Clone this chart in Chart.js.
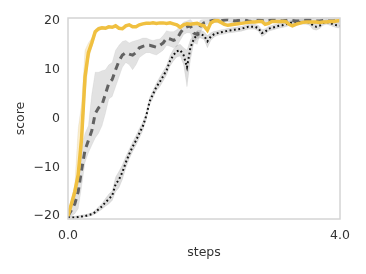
<!DOCTYPE html>
<html>
<head>
<meta charset="utf-8">
<script src="https://cdn.jsdelivr.net/npm/chart.js@4/dist/chart.umd.min.js"></script>
<style>
    html, body { margin: 0; padding: 0; background: #fff; }
    #wrap { width: 366px; height: 274px; }
</style>
</head>
<body>
<div id="wrap"><canvas id="scoreChart"></canvas></div>
<script>
// ===== DATA =====
const steps = [0, 0.05, 0.1, 0.15, 0.2, 0.25, 0.3, 0.35, 0.4, 0.45,
    0.5, 0.55, 0.6, 0.65, 0.7, 0.75, 0.8, 0.85, 0.9, 0.95,
    1.0, 1.05, 1.1, 1.15, 1.2, 1.25, 1.3, 1.35, 1.4, 1.45,
    1.5, 1.55, 1.6, 1.65, 1.7, 1.75, 1.8, 1.85, 1.9, 1.95,
    2.0, 2.05, 2.1, 2.15, 2.2, 2.25, 2.3, 2.35, 2.4, 2.45,
    2.5, 2.55, 2.6, 2.65, 2.7, 2.75, 2.8, 2.85, 2.9, 2.95,
    3.0, 3.05, 3.1, 3.15, 3.2, 3.25, 3.3, 3.35, 3.4, 3.45,
    3.5, 3.55, 3.6, 3.65, 3.7, 3.75, 3.8, 3.85, 3.9, 3.95, 4.0];

const goldScore = [-20, -17.5, -15, -11.5, -4, 8.5, 13.5, 15.5, 17.8, 18.4,
    18.6, 18.5, 18.8, 18.7, 19, 18.5, 18.4, 19, 19.2, 18.8,
    18.8, 19.2, 19.4, 19.5, 19.5, 19.6, 19.5, 19.6, 19.6, 19.5,
    19.6, 19.4, 19.2, 18.7, 19.2, 19.4, 19.3, 19.4, 19.5, 19.2,
    19, 18.1, 19.6, 20, 20.1, 19.7, 19.3, 19.1, 19.2, 19.3,
    19.4, 19.5, 19.6, 19.7, 19.8, 19.8, 19.9, 19.9, 19.3, 19.5,
    19.9, 19.9, 19.9, 19.9, 19.9, 19.3, 19, 19.3, 19.5, 19.7,
    19.8, 19.8, 19.8, 19.8, 19.7, 19.8, 19.8, 19.9, 19.9, 20, 20.1];
// band only matters during the rise, first 13 steps
const goldLo = [-20.3, -18.5, -16.5, -13.5, -8, 4, 12, 14.5, 17.2, 18, 18.3, 18.2, 18.5];
const goldHi = [-19.7, -16.5, -13.5, -2, 3, 14, 15.5, 16.5, 18.3, 18.8, 18.9, 18.8, 19.1];

const dashScore = [-20, -18.8, -17.5, -15, -10.5, -6.5, -4.5, -2.5, 1, 2.2,
    2.8, 5, 7.2, 8, 10, 11.8, 13, 13.5, 13.2, 13,
    13.5, 14.5, 14.8, 15, 15, 14.8, 14.6, 15, 15.5, 16.5,
    16.3, 16, 16.3, 17.5, 18.5, 18.8, 19, 17.5, 17.2, 19,
    19.6, 19.8, 20, 20.2, 20.1, 20, 20.2, 20.3, 20.2, 20,
    20.1, 20.2, 20.2, 20, 19.9, 20.1, 20.2, 20.1, 20, 20.1,
    20.2, 20.2, 20.1, 20, 20.1, 20.2, 20.1, 20, 20, 20.1,
    20.2, 20.2, 20.1, 20, 20, 20.1, 20.1, 20, 20, 20.1, 20.1];
const dashLo = [-20.3, -20, -19.5, -18.5, -14, -9, -7, -5.5, -4, -3,
    -1.5, 1, 4, 4.5, 6.5, 8.5, 10.5, 11.5, 11, 10,
    11, 12.5, 13, 13.5, 13.5, 13.2, 13, 13.5, 14, 15,
    14.8, 14.5, 14.8, 16, 17.2, 17.6, 17.5, 15.5, 15.2, 17.8,
    19, 19.3, 19.5, 19.7, 19.6, 19.5, 19.7, 19.8, 19.7, 19.5,
    19.6, 19.7, 19.7, 19.5, 19.4, 19.6, 19.7, 19.6, 19.5, 19.6,
    19.7, 19.7, 19.6, 19.5, 19.6, 19.7, 19.6, 19.5, 19.5, 19.6,
    19.7, 19.7, 19.6, 19.5, 19.5, 19.6, 19.6, 19.5, 19.5, 19.6, 19.6];
const dashHi = [-19.5, -17, -15, -11, -6, -3, -1.5, 5, 9.5, 9.5,
    9.8, 10, 11, 11.5, 14, 15, 15.8, 16, 15.5, 15.8,
    16, 16.2, 16.5, 16.5, 16.2, 16, 16.2, 16.3, 17, 18,
    17.8, 17.8, 18.2, 19, 19.8, 20, 20.3, 19.5, 19, 20.2,
    20.3, 20.3, 20.4, 20.5, 20.5, 20.4, 20.5, 20.6, 20.5, 20.4,
    20.5, 20.5, 20.5, 20.4, 20.3, 20.5, 20.5, 20.5, 20.4, 20.5,
    20.5, 20.5, 20.5, 20.4, 20.5, 20.5, 20.5, 20.4, 20.4, 20.5,
    20.5, 20.5, 20.5, 20.4, 20.4, 20.5, 20.5, 20.4, 20.4, 20.5, 20.5];

const dotScore = [-20.2, -20.3, -20.3, -20.2, -20.1, -20, -19.8, -19.6, -19.2, -18.6,
    -18, -17.2, -16.5, -15.8, -13.5, -12.5, -11, -9, -7.3, -5.8,
    -4.5, -3, -1.6, 0.5, 3.5, 5, 6.5, 7.5, 8.7, 9.9,
    11.8, 13, 13.8, 14, 13, 10.5, 14.5, 16.3, 17.2, 17.3,
    17, 15.8, 16.8, 17.3, 17.5, 17.7, 17.8, 18, 18.1, 18.2,
    18.3, 18.4, 18.6, 18.8, 18.8, 18.8, 18.5, 17.5, 17.8, 18.4,
    18.6, 18.8, 19, 19.1, 19.3, 19.5, 19.7, 19.8, 19.8, 19.8,
    19.8, 19.7, 19.1, 18.8, 19, 19.6, 19.8, 19.6, 19.3, 19.1, 19];
const dotLo = [-20.5, -20.5, -20.5, -20.4, -20.3, -20.2, -20.1, -19.9, -19.6, -19.1,
    -18.6, -18, -17.5, -16.8, -15, -14.2, -12.5, -10.2, -8.3, -6.8,
    -5.5, -4, -2.5, -0.3, 2.7, 4.2, 5.7, 6.5, 7.7, 8.9,
    10.7, 11.8, 12.6, 12.8, 11, 6.5, 12, 15.5, 16.4, 16.5,
    16.2, 14.5, 16, 16.7, 17, 17.2, 17.3, 17.5, 17.6, 17.7,
    17.8, 17.9, 18.1, 18.3, 18.3, 18.3, 17.9, 16.8, 17.2, 17.9,
    18.1, 18.3, 18.5, 18.6, 18.8, 19, 19.2, 19.3, 19.3, 19.3,
    19.3, 19.1, 18.3, 18.1, 18.4, 19.1, 19.3, 19.1, 18.8, 18.6, 18.5];
const dotHi = [-19.9, -20, -20, -19.9, -19.8, -19.7, -19.5, -19.3, -18.8, -18.1,
    -17.4, -16.4, -15.5, -14.8, -12, -10.8, -9.5, -7.8, -6.3, -4.8,
    -3.5, -2, -0.7, 1.3, 4.3, 5.8, 7.3, 8.5, 9.7, 10.9,
    12.9, 14.2, 15, 15.2, 14.5, 14, 16.2, 17.1, 18, 18.1,
    17.8, 17, 17.6, 17.9, 18, 18.2, 18.3, 18.5, 18.6, 18.7,
    18.8, 18.9, 19.1, 19.3, 19.3, 19.3, 19.1, 18.2, 18.4, 18.9,
    19.1, 19.3, 19.5, 19.6, 19.8, 20, 20.2, 20.3, 20.3, 20.3,
    20.3, 20.2, 19.9, 19.5, 19.6, 20.1, 20.3, 20.1, 19.8, 19.6, 19.5];

const xTicks = [0, 4];
const yTicks = [-20, -10, 0, 10, 20];

// ===== HELPERS =====
function toPoints(values) {
    return values.map((v, i) => ({ x: steps[i], y: v }));
}

function lineSet(values, color, width, dash, order) {
    return {
        data: toPoints(values),
        borderColor: color,
        borderWidth: width,
        borderDash: dash,
        pointRadius: 0,
        tension: 0,
        fill: false,
        order: order
    };
}

function bandEdge(values, fill, fillColor, order) {
    return {
        data: toPoints(values),
        borderColor: 'rgba(0, 0, 0, 0.06)',
        borderWidth: 0.8,
        pointRadius: 0,
        tension: 0,
        fill: fill,
        backgroundColor: fillColor,
        order: order
    };
}

// light grey box round the plot area
const frame = {
    id: 'frame',
    afterDatasetsDraw(chart) {
        const a = chart.chartArea;
        const ctx = chart.ctx;
        ctx.save();
        ctx.strokeStyle = '#d4d4d4';
        ctx.lineWidth = 1.5;
        ctx.strokeRect(a.left, a.top, a.right - a.left, a.bottom - a.top);
        ctx.restore();
    }
};

const font = { family: 'DejaVu Sans', size: 12.5 };
const textColor = '#333333';

// ===== CHART =====
new Chart(document.getElementById('scoreChart'), {
    type: 'line',
    data: {
        datasets: [
            lineSet(goldScore, '#f0c040', 3.5, [], 0),
            lineSet(dashScore, '#626262', 3, [7, 5], 1),
            lineSet(dotScore, '#111111', 2, [1.8, 2.6], 2),
            bandEdge(goldLo, false, 'rgba(0,0,0,0)', 10),
            bandEdge(goldHi, '-1', 'rgba(240, 192, 64, 0.28)', 10),
            bandEdge(dashLo, false, 'rgba(0,0,0,0)', 11),
            bandEdge(dashHi, '-1', 'rgba(150, 150, 150, 0.28)', 11),
            bandEdge(dotLo, false, 'rgba(0,0,0,0)', 12),
            bandEdge(dotHi, '-1', 'rgba(150, 150, 150, 0.32)', 12)
        ]
    },
    options: {
        responsive: true,
        maintainAspectRatio: false,
        animation: false,
        layout: { padding: { top: 18, right: 26, left: 0, bottom: 0 } },
        plugins: {
            legend: { display: false },
            tooltip: { enabled: false }
        },
        scales: {
            x: {
                type: 'linear',
                min: 0,
                max: 4,
                grid: { display: false, drawTicks: false },
                border: { display: false },
                afterBuildTicks: s => { s.ticks = xTicks.map(v => ({ value: v })); },
                afterFit: s => { s.height = 55; },
                ticks: {
                    color: textColor,
                    font: font,
                    padding: 9,
                    maxRotation: 0,
                    callback: v => v.toFixed(1)
                },
                title: {
                    display: true,
                    text: 'steps',
                    color: textColor,
                    font: font,
                    padding: { top: 0, bottom: 14 }
                }
            },
            y: {
                min: -20.6,
                max: 20.6,
                grid: { display: false, drawTicks: false },
                border: { display: false },
                afterBuildTicks: s => { s.ticks = yTicks.map(v => ({ value: v })); },
                afterFit: s => { s.width = 68; },
                ticks: {
                    color: textColor,
                    font: font,
                    padding: 8,
                    callback: v => (v < 0 ? '\u2212' + Math.abs(v) : String(v))
                },
                title: {
                    display: true,
                    text: 'score',
                    color: textColor,
                    font: font,
                    padding: { top: 13, bottom: 0 }
                }
            }
        }
    },
    plugins: [frame]
});
</script>
</body>
</html>
